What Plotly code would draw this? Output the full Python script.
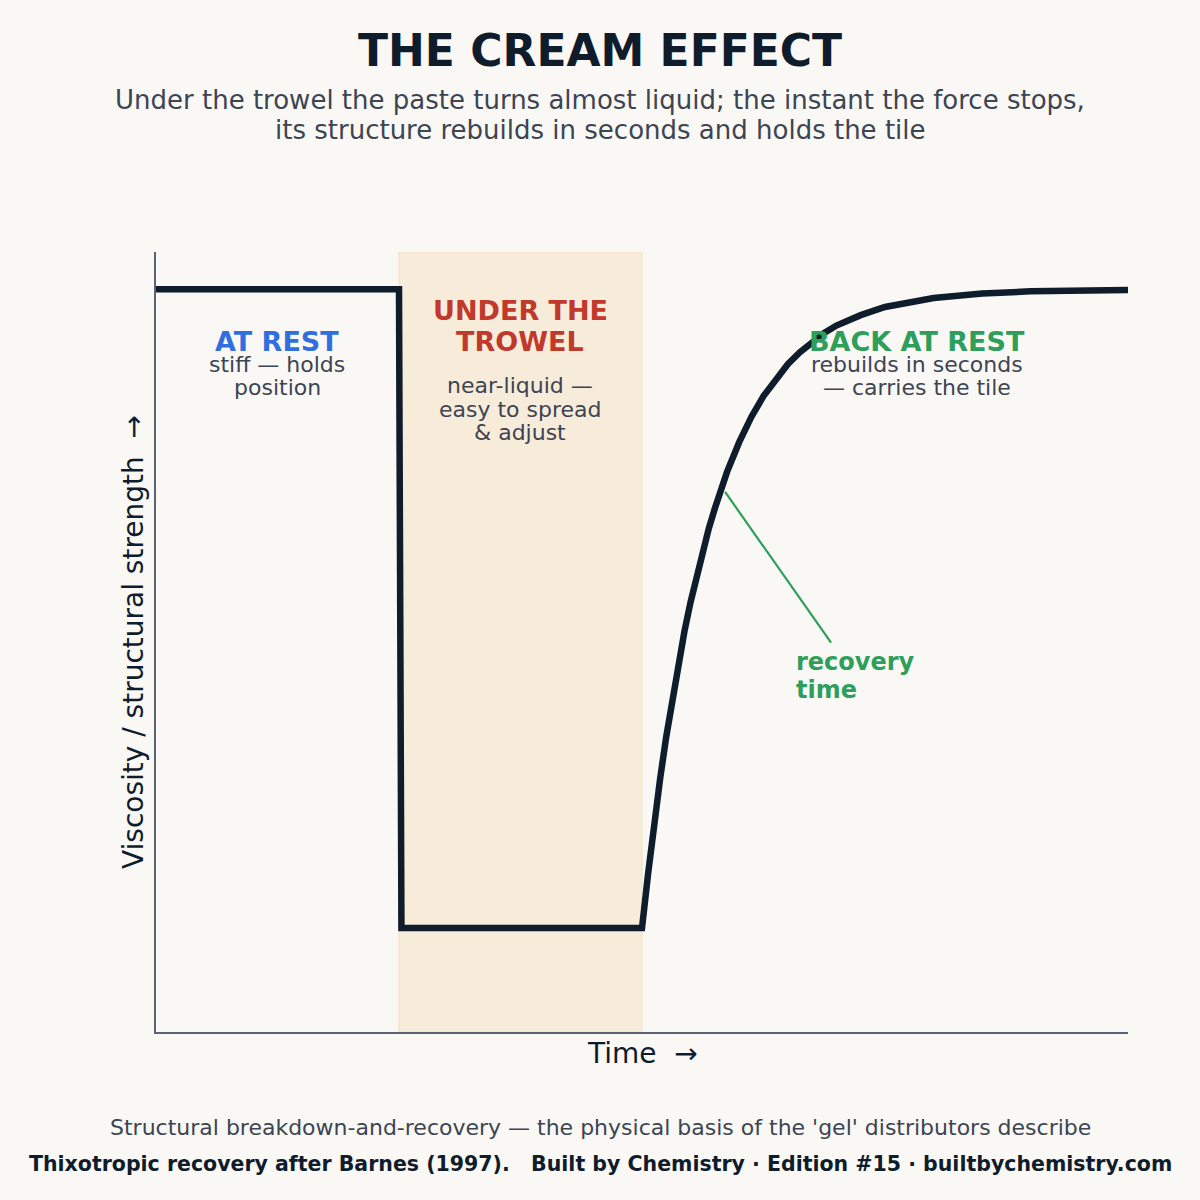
import plotly.graph_objects as go

# ---- data ----
time_pts = [0.0, 1.0, 1.01, 2.0,
            2.025, 2.05, 2.075, 2.1, 2.125, 2.15, 2.175, 2.2, 2.225, 2.25, 2.275, 2.3,
            2.35, 2.4, 2.45, 2.5, 2.55, 2.6, 2.65, 2.7, 2.75, 2.8, 2.85, 2.9, 3.0, 3.1,
            3.2, 3.4, 3.6, 4.0]
strength = [1.0, 1.0, 0.14, 0.14,
            0.213, 0.281, 0.342, 0.398, 0.450, 0.497, 0.540, 0.579, 0.615, 0.648, 0.678, 0.705,
            0.754, 0.794, 0.828, 0.856, 0.879, 0.899, 0.915, 0.929, 0.941, 0.951, 0.959, 0.965,
            0.976, 0.983, 0.988, 0.994, 0.997, 0.999]
trowel_start, trowel_end = 1.0, 2.0
x_range = [0, 4]
y_range = [0, 1.05]

title_text = "THE CREAM EFFECT"
subtitle_lines = ["Under the trowel the paste turns almost liquid; the instant the force stops,",
                  "its structure rebuilds in seconds and holds the tile"]
footer_note = "Structural breakdown-and-recovery — the physical basis of the 'gel' distributors describe"
footer_credit = "Thixotropic recovery after Barnes (1997).   Built by Chemistry · Edition #15 · builtbychemistry.com"

DARK = "#0f1c2b"
GRAY = "#3d4452"
GREEN = "#2e9e5b"
BLUE = "#2f6fe0"
RED = "#c0392b"
BG = "#f9f8f5"
FONT = "DejaVu Sans"

fig = go.Figure()
fig.add_trace(go.Scatter(x=time_pts, y=strength, mode="lines",
                         line=dict(color=DARK, width=6.5), hoverinfo="skip",
                         showlegend=False))

fig.add_shape(type="rect", xref="x", yref="y", x0=trowel_start, x1=trowel_end,
              y0=y_range[0], y1=y_range[1], fillcolor="#f7ebda",
              line=dict(color="#f4dfc0", width=1), layer="below")

# recovery pointer line
fig.add_shape(type="line", xref="x", yref="y", x0=2.342, y0=0.727, x1=2.778, y1=0.524,
              line=dict(color=GREEN, width=2.2))


def py(p):
    return (1032 - p) / 780.0


def px(p):
    return (p - 156) / 972.0


def text(t, x, y, size, color, bold=False, xanchor="center", angle=0):
    fig.add_annotation(text=f"<b>{t}</b>" if bold else t, xref="paper", yref="paper",
                       x=px(x), y=py(y), xanchor=xanchor, yanchor="middle",
                       textangle=angle, showarrow=False,
                       font=dict(family=FONT, size=size, color=color))


text(title_text, 600, 50, 44, DARK, bold=True)
text(subtitle_lines[0], 600, 100, 26, GRAY)
text(subtitle_lines[1], 600, 130, 26, GRAY)
text(footer_note, 600, 1127, 22, GRAY)
text(footer_credit, 600, 1164, 20.5, DARK, bold=True)

# axis titles
text("Viscosity / structural strength  →", 133, 642, 28, DARK, angle=-90)
text("Time  →", 642, 1053, 28, DARK)

# phase labels
text("AT REST", 277, 341, 27, BLUE, bold=True)
text("stiff — holds", 277, 364, 22, GRAY)
text("position", 277, 387, 22, GRAY)

text("UNDER THE", 520, 311, 27, RED, bold=True)
text("TROWEL", 520, 341, 27, RED, bold=True)
text("near-liquid —", 520, 385, 22, GRAY)
text("easy to spread", 520, 409, 22, GRAY)
text("&amp; adjust", 520, 432, 22, GRAY)

text("BACK AT REST", 917, 341, 27, GREEN, bold=True)
text("rebuilds in seconds", 917, 364, 22, GRAY)
text("— carries the tile", 917, 387, 22, GRAY)

text("recovery", 794, 662, 24, GREEN, bold=True, xanchor="left")
text("time", 794, 690, 24, GREEN, bold=True, xanchor="left")

fig.update_layout(
    width=1200, height=1200,
    margin=dict(l=156, r=72, t=252, b=168),
    paper_bgcolor=BG, plot_bgcolor=BG,
    font=dict(family=FONT),
    xaxis=dict(range=x_range, showgrid=False, zeroline=False, showticklabels=False,
               ticks="", showline=True, linecolor="#5b6472", linewidth=1.5),
    yaxis=dict(range=y_range, showgrid=False, zeroline=False, showticklabels=False,
               ticks="", showline=True, linecolor="#5b6472", linewidth=1.5),
)

fig.write_html("out.html")
